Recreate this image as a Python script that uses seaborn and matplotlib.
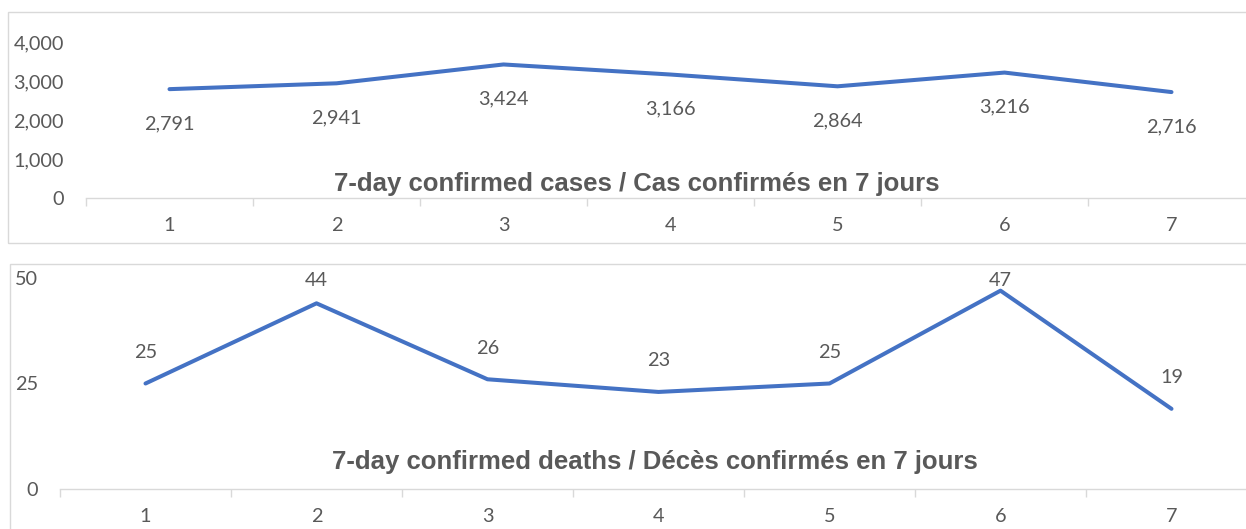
import numpy as np
import pandas as pd
import seaborn as sns
import matplotlib.pyplot as plt
from matplotlib.patches import Rectangle

days = [1, 2, 3, 4, 5, 6, 7]
cases = [2791, 2941, 3424, 3166, 2864, 3216, 2716]
deaths = [25, 44, 26, 23, 25, 47, 19]
cases_title = "7-day confirmed cases / Cas confirmés en 7 jours"
deaths_title = "7-day confirmed deaths / Décès confirmés en 7 jours"

sns.set_style("white")
plt.rcParams['font.family'] = ['Lato', 'DejaVu Sans']

W, H = 1246, 529
fig = plt.figure(figsize=(W / 100, H / 100), dpi=100)

blue = '#4472C4'
grey_txt = '#595959'
grey_line = '#d9d9d9'
lbl_size = 14.3


def px_box(x0, y0, x1, y1):
    # pixel box (top-left origin) -> figure fraction rect
    return [x0 / W, (H - y1) / H, (x1 - x0) / W, (y1 - y0) / H]


# outer chart frames
for (x0, y0, x1, y1) in [(8, 12, 1260, 243), (10, 264, 1260, 540)]:
    fig.patches.append(Rectangle((x0 / W, (H - y1) / H), (x1 - x0) / W, (y1 - y0) / H,
                                 transform=fig.transFigure, fill=False,
                                 edgecolor=grey_line, linewidth=1.0))

ax1 = fig.add_axes(px_box(86, 42, 86 + 7 * 167, 198))
ax2 = fig.add_axes(px_box(60, 278, 60 + 7 * 171, 489))

df1 = pd.DataFrame({'day': np.arange(len(days)), 'value': cases})
df2 = pd.DataFrame({'day': np.arange(len(days)), 'value': deaths})

for ax, df in [(ax1, df1), (ax2, df2)]:
    sns.lineplot(data=df, x='day', y='value', ax=ax, color=blue, linewidth=2.9,
                 solid_capstyle='round', solid_joinstyle='round', clip_on=False)
    ax.set_xlim(-0.5, len(days) - 0.5)
    ax.set_xlabel('')
    ax.set_ylabel('')
    ax.patch.set_alpha(0)
    for s in ['top', 'right', 'left']:
        ax.spines[s].set_visible(False)
    ax.spines['bottom'].set_color(grey_line)
    ax.spines['bottom'].set_linewidth(1.0)
    ax.set_xticks(np.arange(len(days) + 1) - 0.5)
    ax.set_xticklabels([])
    ax.tick_params(axis='x', which='major', length=6, width=1, color=grey_line,
                   direction='out', bottom=True)
    ax.set_xticks(np.arange(len(days)), minor=True)
    ax.set_xticklabels([str(d) for d in days], minor=True)
    ax.tick_params(axis='x', which='minor', length=0, pad=14, labelsize=lbl_size,
                   labelcolor=grey_txt)
    ax.tick_params(axis='y', length=0, labelsize=lbl_size, labelcolor=grey_txt, pad=16)

# top chart
ax1.set_ylim(0, 4000)
ax1.set_yticks([0, 1000, 2000, 3000, 4000])
ax1.set_yticklabels([f"{v:,}" for v in [0, 1000, 2000, 3000, 4000]])
for i, v in enumerate(cases):
    ax1.annotate(f"{v:,}", (i, v), xytext=(0, -25), textcoords='offset points',
                 ha='center', va='center', fontsize=lbl_size, color=grey_txt)

# bottom chart
ax2.set_ylim(0, 50)
ax2.set_yticks([0, 25, 50])
for i, v in enumerate(deaths):
    ax2.annotate(str(v), (i, min(v + 7.4, 49.4)), ha='center', va='center',
                 fontsize=lbl_size, color=grey_txt)

fig.text(637 / W, 1 - 184 / H, cases_title, ha='center', va='center',
         fontsize=18.5, fontweight='bold', color=grey_txt, family=['Liberation Sans'])
fig.text(655 / W, 1 - 462 / H, deaths_title, ha='center', va='center',
         fontsize=18.5, fontweight='bold', color=grey_txt, family=['Liberation Sans'])

fig.savefig('out.png', dpi=100)
